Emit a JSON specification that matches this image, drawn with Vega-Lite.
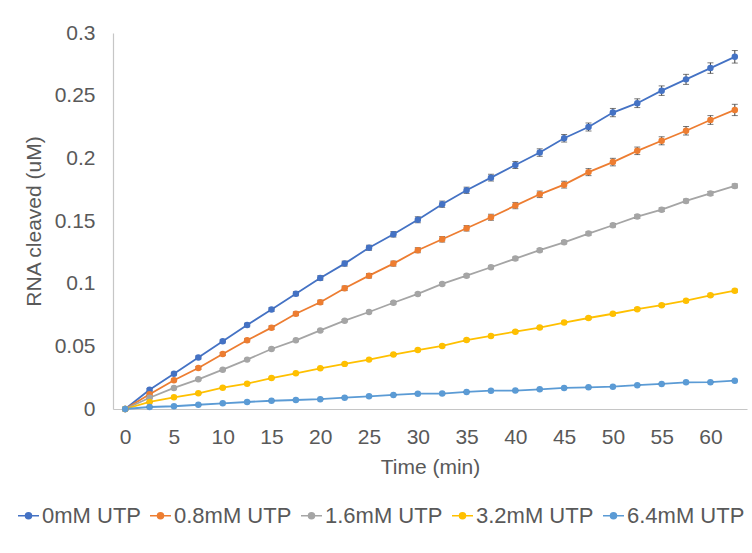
{
  "$schema": "https://vega.github.io/schema/vega-lite/v6.json",
  "autosize": "none",
  "width": 634,
  "height": 376,
  "padding": {"left": 113, "top": 33, "right": 5, "bottom": 144},
  "background": "white",
  "config": {
    "font": "Liberation Sans",
    "view": {"stroke": null},
    "axis": {"labelFont": "Liberation Sans", "titleFont": "Liberation Sans", "labelColor": "#595959", "titleColor": "#595959", "labelFontSize": 21, "titleFontSize": 21, "titleFontWeight": "normal", "grid": false, "ticks": false, "domainColor": "#C6C6C6", "domainWidth": 1.2},
    "legend": {"labelFont": "Liberation Sans", "labelFontSize": 22, "labelColor": "#595959"}
  },
  "data": {"values": [
    {"s":"0mM UTP","t":0,"v":0,"e":0},
    {"s":"0mM UTP","t":2.5,"v":0.0154,"e":0.001},
    {"s":"0mM UTP","t":5,"v":0.0282,"e":0.001},
    {"s":"0mM UTP","t":7.5,"v":0.0411,"e":0.0012},
    {"s":"0mM UTP","t":10,"v":0.054,"e":0.0012},
    {"s":"0mM UTP","t":12.5,"v":0.067,"e":0.0014},
    {"s":"0mM UTP","t":15,"v":0.0793,"e":0.0015},
    {"s":"0mM UTP","t":17.5,"v":0.092,"e":0.0016},
    {"s":"0mM UTP","t":20,"v":0.1045,"e":0.0018},
    {"s":"0mM UTP","t":22.5,"v":0.116,"e":0.002},
    {"s":"0mM UTP","t":25,"v":0.1287,"e":0.002},
    {"s":"0mM UTP","t":27.5,"v":0.1394,"e":0.0022},
    {"s":"0mM UTP","t":30,"v":0.151,"e":0.0024},
    {"s":"0mM UTP","t":32.5,"v":0.1634,"e":0.0025},
    {"s":"0mM UTP","t":35,"v":0.1745,"e":0.0025},
    {"s":"0mM UTP","t":37.5,"v":0.1846,"e":0.0027},
    {"s":"0mM UTP","t":40,"v":0.1947,"e":0.0028},
    {"s":"0mM UTP","t":42.5,"v":0.2046,"e":0.003},
    {"s":"0mM UTP","t":45,"v":0.216,"e":0.003},
    {"s":"0mM UTP","t":47.5,"v":0.225,"e":0.0032},
    {"s":"0mM UTP","t":50,"v":0.2365,"e":0.0033},
    {"s":"0mM UTP","t":52.5,"v":0.244,"e":0.0035},
    {"s":"0mM UTP","t":55,"v":0.254,"e":0.0038},
    {"s":"0mM UTP","t":57.5,"v":0.263,"e":0.004},
    {"s":"0mM UTP","t":60,"v":0.272,"e":0.0042},
    {"s":"0mM UTP","t":62.5,"v":0.281,"e":0.005},
    {"s":"0.8mM UTP","t":0,"v":0,"e":0},
    {"s":"0.8mM UTP","t":2.5,"v":0.0117,"e":0.0008},
    {"s":"0.8mM UTP","t":5,"v":0.0229,"e":0.001},
    {"s":"0.8mM UTP","t":7.5,"v":0.0327,"e":0.0011},
    {"s":"0.8mM UTP","t":10,"v":0.0439,"e":0.0012},
    {"s":"0.8mM UTP","t":12.5,"v":0.0548,"e":0.0013},
    {"s":"0.8mM UTP","t":15,"v":0.0649,"e":0.0014},
    {"s":"0.8mM UTP","t":17.5,"v":0.076,"e":0.0015},
    {"s":"0.8mM UTP","t":20,"v":0.0852,"e":0.0016},
    {"s":"0.8mM UTP","t":22.5,"v":0.0963,"e":0.0018},
    {"s":"0.8mM UTP","t":25,"v":0.1064,"e":0.0018},
    {"s":"0.8mM UTP","t":27.5,"v":0.116,"e":0.002},
    {"s":"0.8mM UTP","t":30,"v":0.1267,"e":0.002},
    {"s":"0.8mM UTP","t":32.5,"v":0.1354,"e":0.0022},
    {"s":"0.8mM UTP","t":35,"v":0.1442,"e":0.0022},
    {"s":"0.8mM UTP","t":37.5,"v":0.153,"e":0.0024},
    {"s":"0.8mM UTP","t":40,"v":0.1623,"e":0.0025},
    {"s":"0.8mM UTP","t":42.5,"v":0.1713,"e":0.0026},
    {"s":"0.8mM UTP","t":45,"v":0.179,"e":0.0027},
    {"s":"0.8mM UTP","t":47.5,"v":0.189,"e":0.0028},
    {"s":"0.8mM UTP","t":50,"v":0.197,"e":0.003},
    {"s":"0.8mM UTP","t":52.5,"v":0.206,"e":0.003},
    {"s":"0.8mM UTP","t":55,"v":0.214,"e":0.0032},
    {"s":"0.8mM UTP","t":57.5,"v":0.222,"e":0.0034},
    {"s":"0.8mM UTP","t":60,"v":0.2306,"e":0.0035},
    {"s":"0.8mM UTP","t":62.5,"v":0.2386,"e":0.0045},
    {"s":"1.6mM UTP","t":0,"v":0,"e":0},
    {"s":"1.6mM UTP","t":2.5,"v":0.009,"e":0.0005},
    {"s":"1.6mM UTP","t":5,"v":0.0168,"e":0.0005},
    {"s":"1.6mM UTP","t":7.5,"v":0.0237,"e":0.0006},
    {"s":"1.6mM UTP","t":10,"v":0.0314,"e":0.0006},
    {"s":"1.6mM UTP","t":12.5,"v":0.0394,"e":0.0007},
    {"s":"1.6mM UTP","t":15,"v":0.0479,"e":0.0007},
    {"s":"1.6mM UTP","t":17.5,"v":0.0548,"e":0.0008},
    {"s":"1.6mM UTP","t":20,"v":0.0627,"e":0.0008},
    {"s":"1.6mM UTP","t":22.5,"v":0.0705,"e":0.0009},
    {"s":"1.6mM UTP","t":25,"v":0.0774,"e":0.0009},
    {"s":"1.6mM UTP","t":27.5,"v":0.0848,"e":0.001},
    {"s":"1.6mM UTP","t":30,"v":0.0918,"e":0.001},
    {"s":"1.6mM UTP","t":32.5,"v":0.0998,"e":0.001},
    {"s":"1.6mM UTP","t":35,"v":0.1064,"e":0.0011},
    {"s":"1.6mM UTP","t":37.5,"v":0.1131,"e":0.0011},
    {"s":"1.6mM UTP","t":40,"v":0.12,"e":0.0012},
    {"s":"1.6mM UTP","t":42.5,"v":0.1267,"e":0.0012},
    {"s":"1.6mM UTP","t":45,"v":0.133,"e":0.0012},
    {"s":"1.6mM UTP","t":47.5,"v":0.14,"e":0.0013},
    {"s":"1.6mM UTP","t":50,"v":0.1466,"e":0.0013},
    {"s":"1.6mM UTP","t":52.5,"v":0.1535,"e":0.0014},
    {"s":"1.6mM UTP","t":55,"v":0.159,"e":0.0014},
    {"s":"1.6mM UTP","t":57.5,"v":0.166,"e":0.0014},
    {"s":"1.6mM UTP","t":60,"v":0.172,"e":0.0015},
    {"s":"1.6mM UTP","t":62.5,"v":0.178,"e":0.0015},
    {"s":"3.2mM UTP","t":0,"v":0,"e":0},
    {"s":"3.2mM UTP","t":2.5,"v":0.0056,"e":0.0004},
    {"s":"3.2mM UTP","t":5,"v":0.0093,"e":0.0004},
    {"s":"3.2mM UTP","t":7.5,"v":0.0125,"e":0.0005},
    {"s":"3.2mM UTP","t":10,"v":0.017,"e":0.0005},
    {"s":"3.2mM UTP","t":12.5,"v":0.0202,"e":0.0005},
    {"s":"3.2mM UTP","t":15,"v":0.0247,"e":0.0006},
    {"s":"3.2mM UTP","t":17.5,"v":0.0285,"e":0.0006},
    {"s":"3.2mM UTP","t":20,"v":0.0325,"e":0.0006},
    {"s":"3.2mM UTP","t":22.5,"v":0.036,"e":0.0007},
    {"s":"3.2mM UTP","t":25,"v":0.0394,"e":0.0007},
    {"s":"3.2mM UTP","t":27.5,"v":0.0434,"e":0.0007},
    {"s":"3.2mM UTP","t":30,"v":0.047,"e":0.0008},
    {"s":"3.2mM UTP","t":32.5,"v":0.0503,"e":0.0008},
    {"s":"3.2mM UTP","t":35,"v":0.055,"e":0.0008},
    {"s":"3.2mM UTP","t":37.5,"v":0.0583,"e":0.0008},
    {"s":"3.2mM UTP","t":40,"v":0.0617,"e":0.0009},
    {"s":"3.2mM UTP","t":42.5,"v":0.065,"e":0.0009},
    {"s":"3.2mM UTP","t":45,"v":0.069,"e":0.0009},
    {"s":"3.2mM UTP","t":47.5,"v":0.0726,"e":0.0009},
    {"s":"3.2mM UTP","t":50,"v":0.076,"e":0.001},
    {"s":"3.2mM UTP","t":52.5,"v":0.0796,"e":0.001},
    {"s":"3.2mM UTP","t":55,"v":0.0828,"e":0.001},
    {"s":"3.2mM UTP","t":57.5,"v":0.0864,"e":0.001},
    {"s":"3.2mM UTP","t":60,"v":0.0907,"e":0.001},
    {"s":"3.2mM UTP","t":62.5,"v":0.0944,"e":0.0011},
    {"s":"6.4mM UTP","t":0,"v":0,"e":0},
    {"s":"6.4mM UTP","t":2.5,"v":0.0016,"e":0.0002},
    {"s":"6.4mM UTP","t":5,"v":0.0022,"e":0.0002},
    {"s":"6.4mM UTP","t":7.5,"v":0.0034,"e":0.0002},
    {"s":"6.4mM UTP","t":10,"v":0.0045,"e":0.0002},
    {"s":"6.4mM UTP","t":12.5,"v":0.0056,"e":0.0003},
    {"s":"6.4mM UTP","t":15,"v":0.0066,"e":0.0003},
    {"s":"6.4mM UTP","t":17.5,"v":0.0072,"e":0.0003},
    {"s":"6.4mM UTP","t":20,"v":0.0078,"e":0.0003},
    {"s":"6.4mM UTP","t":22.5,"v":0.009,"e":0.0003},
    {"s":"6.4mM UTP","t":25,"v":0.0101,"e":0.0003},
    {"s":"6.4mM UTP","t":27.5,"v":0.0112,"e":0.0003},
    {"s":"6.4mM UTP","t":30,"v":0.0122,"e":0.0003},
    {"s":"6.4mM UTP","t":32.5,"v":0.0123,"e":0.0003},
    {"s":"6.4mM UTP","t":35,"v":0.0136,"e":0.0003},
    {"s":"6.4mM UTP","t":37.5,"v":0.0146,"e":0.0003},
    {"s":"6.4mM UTP","t":40,"v":0.0147,"e":0.0003},
    {"s":"6.4mM UTP","t":42.5,"v":0.0157,"e":0.0003},
    {"s":"6.4mM UTP","t":45,"v":0.0168,"e":0.0003},
    {"s":"6.4mM UTP","t":47.5,"v":0.0173,"e":0.0003},
    {"s":"6.4mM UTP","t":50,"v":0.0178,"e":0.0003},
    {"s":"6.4mM UTP","t":52.5,"v":0.019,"e":0.0003},
    {"s":"6.4mM UTP","t":55,"v":0.02,"e":0.0003},
    {"s":"6.4mM UTP","t":57.5,"v":0.0213,"e":0.0003},
    {"s":"6.4mM UTP","t":60,"v":0.0214,"e":0.0003},
    {"s":"6.4mM UTP","t":62.5,"v":0.0226,"e":0.0003}
  ]},
  "encoding": {
    "x": {"field": "t", "type": "quantitative",
      "scale": {"domain": [-1.25, 63.75], "nice": false, "zero": false},
      "axis": {"values": [0,5,10,15,20,25,30,35,40,45,50,55,60], "title": "Time (min)", "labelPadding": 17, "titlePadding": 9, "labelFlush": false}},
    "y": {"field": "v", "type": "quantitative",
      "scale": {"domain": [0, 0.3], "nice": false},
      "axis": {"values": [0,0.05,0.1,0.15,0.2,0.25,0.3], "format": "~g", "title": "RNA cleaved (uM)", "labelPadding": 18, "titlePadding": 10, "labelFlush": false}}
  },
  "layer": [
    {
      "mark": {"type": "line", "strokeWidth": 1.8},
      "encoding": {
        "color": {"field": "s", "type": "nominal",
          "sort": ["0mM UTP","0.8mM UTP","1.6mM UTP","3.2mM UTP","6.4mM UTP"],
          "scale": {"domain": ["0mM UTP","0.8mM UTP","1.6mM UTP","3.2mM UTP","6.4mM UTP"], "range": ["#4472C4","#ED7D31","#A5A5A5","#FFC000","#5B9BD5"]},
          "legend": {"title": null, "orient": "none", "direction": "horizontal", "columns": 5, "legendX": -96, "legendY": 471,
            "symbolType": "M-1,0L1,0M-0.28,0A0.28,0.28,0,1,0,0.28,0A0.28,0.28,0,1,0,-0.28,0Z",
            "symbolSize": 441, "symbolStrokeWidth": 1.6, "labelOffset": 2, "columnPadding": 5}}
      }
    },
    {
      "mark": {"type": "errorbar", "ticks": {"size": 6, "color": "#404040"}, "rule": {"color": "#404040"}, "thickness": 1},
      "encoding": {
        "y": {"field": "v", "type": "quantitative"},
        "yError": {"field": "e"}
      }
    },
    {
      "mark": {"type": "point", "filled": true, "opacity": 1, "size": 42},
      "encoding": {
        "color": {"field": "s", "type": "nominal", "sort": ["0mM UTP","0.8mM UTP","1.6mM UTP","3.2mM UTP","6.4mM UTP"]}
      }
    }
  ]
}
